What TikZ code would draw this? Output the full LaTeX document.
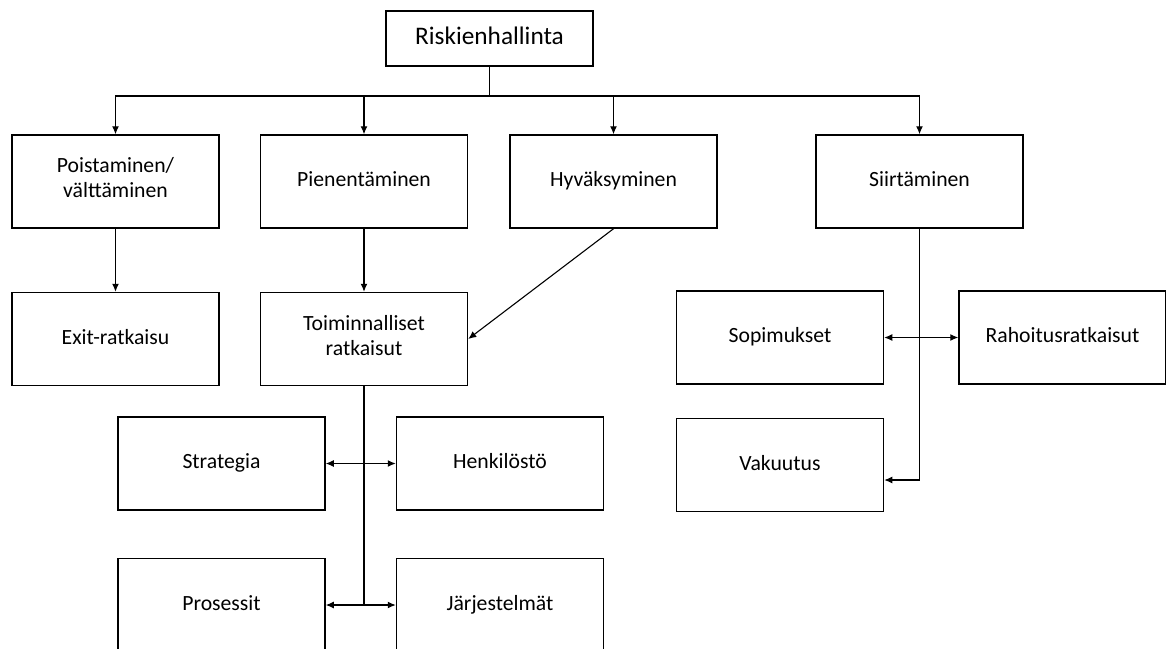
\documentclass[tikz,border=0pt]{standalone}
\usepackage{fontspec}
\setmainfont{Carlito}
\usetikzlibrary{positioning,arrows.meta}
\tikzset{
  mainbox/.style={rectangle, draw, line width=1.5pt, minimum width=207pt, minimum height=93pt,
                  inner sep=2pt, align=center, font=\fontsize{21.7}{25}\selectfont,
                  execute at begin node={\strut}, execute at end node={\strut}},
  topbox/.style={mainbox, minimum height=55pt, font=\fontsize{25.3}{30}\selectfont},
  link/.style={line width=1.1pt},
  fwd/.style={link, -{Latex[length=8pt,width=7pt]}},
  both/.style={link, {Latex[length=8pt,width=7pt]}-{Latex[length=8pt,width=7pt]}},
}
\begin{document}
\begin{tikzpicture}[x=1pt, y=-1pt]
\useasboundingbox (0,0) rectangle (1166,648);
\clip (0,0) rectangle (1166,648);
%Nodes
\node[topbox] (riski) at (489.5,38.5) {Riskienhallinta};
\node[mainbox] (poisto) at (115.5,181.5) {Poistaminen/\\välttäminen};
\node[mainbox] (pienen) [right=40pt of poisto] {Pienentäminen};
\node[mainbox] (hyvaks) [right=41pt of pienen] {Hyväksyminen};
\node[mainbox] (siirto) at (919.5,181.5) {Siirtäminen};
\node[mainbox] (exit) [below=63pt of poisto] {Exit-ratkaisu};
\node[mainbox] (toim) [below=63pt of pienen] {Toiminnalliset\\ratkaisut};
\node[mainbox] (sopim) at (780,337.5) {Sopimukset};
\node[mainbox] (rahoit) [right=74pt of sopim] {Rahoitusratkaisut};
\node[mainbox] (strat) at (221.5,463.5) {Strategia};
\node[mainbox] (henk) [right=70pt of strat] {Henkilöstö};
\node[mainbox] (vakuut) [below=33pt of sopim] {Vakuutus};
\node[mainbox] (prosess) [below=47pt of strat] {Prosessit};
\node[mainbox] (jarj) [right=70pt of prosess] {Järjestelmät};
\coordinate (bus) at (489.5,96);

%Lines
\draw[link] (riski) -- (bus);
\draw[fwd] (bus) -| (poisto);
\draw[fwd] (bus) -| (siirto);
\draw[fwd] (bus -| pienen) -- (pienen);
\draw[fwd] (bus -| hyvaks) -- (hyvaks);
\draw[fwd] (poisto) -- (exit);
\draw[fwd] (pienen) -- (toim);
\draw[fwd] (hyvaks.south) -- (toim.east);
\draw[link] (toim) -- (toim |- prosess);
\draw[both] (strat) -- (henk);
\draw[both] (prosess) -- (jarj);
\draw[fwd] (siirto) |- ([yshift=-15pt]vakuut.east);
\draw[both] (sopim) -- (rahoit);
\end{tikzpicture}
\end{document}
